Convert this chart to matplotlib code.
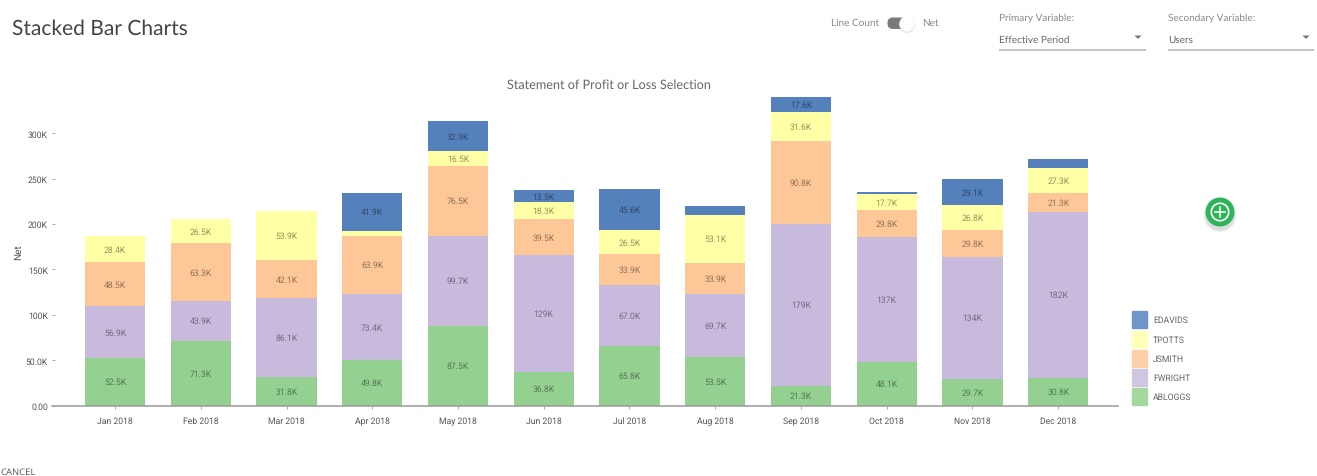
import matplotlib
matplotlib.use("Agg")
import matplotlib.pyplot as plt
from matplotlib.patches import Circle, FancyBboxPatch, Polygon, Patch
import numpy as np

W, H = 1317, 477

# ---- data (values in thousands) ----
months = ["Jan 2018", "Feb 2018", "Mar 2018", "Apr 2018", "May 2018", "Jun 2018",
          "Jul 2018", "Aug 2018", "Sep 2018", "Oct 2018", "Nov 2018", "Dec 2018"]
abloggs = [52.5, 71.3, 31.8, 49.8, 87.5, 36.8, 65.8, 53.5, 21.3, 48.1, 29.7, 30.8]
fwright = [56.9, 43.9, 86.1, 73.4, 99.7, 129, 67.0, 69.7, 179, 137, 134, 182]
jsmith = [48.5, 63.3, 42.1, 63.9, 76.5, 39.5, 33.9, 33.9, 90.8, 29.8, 29.8, 21.3]
tpotts = [28.4, 26.5, 53.9, 5.5, 16.5, 18.3, 26.5, 53.1, 31.6, 17.7, 26.8, 27.3]
edavids = [0, 0, 0, 41.9, 32.9, 13.5, 45.6, 10.0, 17.6, 3.0, 29.1, 10.0]
y_ticks = [0, 50, 100, 150, 200, 250, 300]
y_tick_labels = ["0.00", "50.0K", "100K", "150K", "200K", "250K", "300K"]
series_names = ["ABLOGGS", "FWRIGHT", "JSMITH", "TPOTTS", "EDAVIDS"]
series_values = [abloggs, fwright, jsmith, tpotts, edavids]
series_colors = ["#94D190", "#C8BADC", "#FDC797", "#FFFFA5", "#5480BC"]
legend_colors = ["#A3D89F", "#D0C5E2", "#FDD0A8", "#FFFFB5", "#7095C8"]

FONT = "Roboto"
UI = "Lato"
plt.rcParams["font.family"] = FONT
plt.rcParams["text.hinting"] = "none"
FS = 6.2

fig = plt.figure(figsize=(W / 100, H / 100), dpi=100, facecolor="white")

L, R, T, B = 52, 1118, 96, 406.5
PX_PER_K = 0.908
ax = fig.add_axes([L / W, 1 - B / H, (R - L) / W, (B - T) / H])
step = 85.75
x = np.arange(len(months))
ax.set_xlim(-(115 - L) / step, (R - 115) / step)
ax.set_ylim(0, (B - T) / PX_PER_K)

bottom = np.zeros(len(months))
for name, vals, col in zip(series_names, series_values, series_colors):
    vals = np.array(vals, dtype=float)
    ax.bar(x, vals, 0.7, bottom=bottom, color=col, edgecolor="none", label=name)
    for xi, b, v in zip(x, bottom, vals):
        if v >= 13:
            txt = f"{v:.0f}K" if v >= 100 else f"{v:.1f}K"
            ax.text(xi, b + v / 2, txt, ha="center", va="center", fontsize=FS,
                    color="#000000", alpha=0.42)
    bottom += vals

for s in ("top", "right", "left"):
    ax.spines[s].set_visible(False)
ax.spines["bottom"].set_color("#999999")
ax.spines["bottom"].set_linewidth(1.1)
ax.set_xticks(x, months)
ax.set_yticks(y_ticks, y_tick_labels)
ax.tick_params(axis="x", direction="out", length=2.4, width=0.6, color="#999999",
               labelsize=FS, labelcolor="#555555", pad=5.5)
ax.tick_params(axis="y", direction="in", length=2.4, width=0.6, color="#999999",
               labelsize=FS, labelcolor="#555555", pad=3)
ax.set_ylabel("Net", fontsize=7.2, color="#555555", va="center")
ax.yaxis.set_label_coords((18 - L) / (R - L), (B - 252) / (B - T))
ax.set_title("Statement of Profit or Loss Selection", x=(608.5 - L) / (R - L), pad=5,
             fontsize=9.1, color="#666666", family=UI)

handles = [Patch(color=c, label=n) for c, n in zip(legend_colors, series_names)][::-1]
leg = ax.legend(handles=handles, loc="lower left", frameon=False, fontsize=FS,
                bbox_to_anchor=(1132 / W, 1 - 406 / H), bbox_transform=fig.transFigure,
                borderaxespad=0, borderpad=0, handlelength=1.75, handleheight=2.6,
                labelspacing=0.3, handletextpad=0.7, labelcolor="#666666")

# ---- page chrome, in pixel coordinates ----
ui = fig.add_axes([0, 0, 1, 1], zorder=5)
ui.set_xlim(0, W)
ui.set_ylim(H, 0)
ui.axis("off")
ui.patch.set_alpha(0)

ui.text(12, 28.5, "Stacked Bar Charts", fontsize=15.1, color="#444444", family=UI, va="center")
ui.text(831, 23, "Line Count", fontsize=7.2, color="#888888", family=UI, va="center")
ui.text(922, 23, "Net", fontsize=7.2, color="#888888", family=UI, va="center")
ui.add_patch(FancyBboxPatch((887.5, 18.5), 19, 11.5, boxstyle="round,pad=0,rounding_size=5.5",
                            fc="#7A7A7A", ec="none"))
ui.add_patch(Circle((907, 25.8), 8.2, fc="#CCCCCC", ec="none", alpha=0.45))
ui.add_patch(Circle((907, 24.8), 7.6, fc="white", ec="none"))

for x0, x1, cap, val in [(999, 1146, "Primary Variable:", "Effective Period"),
                         (1168, 1314, "Secondary Variable:", "Users")]:
    ui.text(x0, 18, cap, fontsize=7.2, color="#888888", family=UI, va="center")
    ui.text(x0, 40, val, fontsize=7.2, color="#666666", family=UI, va="center")
    ui.plot([x0, x1], [50.5, 50.5], color="#B5B5B5", lw=1.1, solid_capstyle="butt")
    c = x1 - 8
    ui.add_patch(Polygon([(c - 3.5, 36.5), (c + 3.5, 36.5), (c, 40)], fc="#777777", ec="none"))

for r, a in [(17, 0.04), (16, 0.07), (15, 0.1)]:
    ui.add_patch(Circle((1220, 216.5), r, fc="#555555", ec="none", alpha=a))
ui.add_patch(Circle((1220, 213), 14.5, fc="#2FB45A", ec="none"))
ui.add_patch(Circle((1220, 213), 8.7, fc="none", ec="white", lw=1.2))
ui.plot([1215, 1225], [213, 213], color="white", lw=1.1)
ui.plot([1220, 1220], [208, 218], color="white", lw=1.1)

ui.text(0, 472.5, "CANCEL", fontsize=6.8, color="#555555", family="Open Sans", va="center")

fig.savefig("out.png", dpi=100, facecolor="white")
